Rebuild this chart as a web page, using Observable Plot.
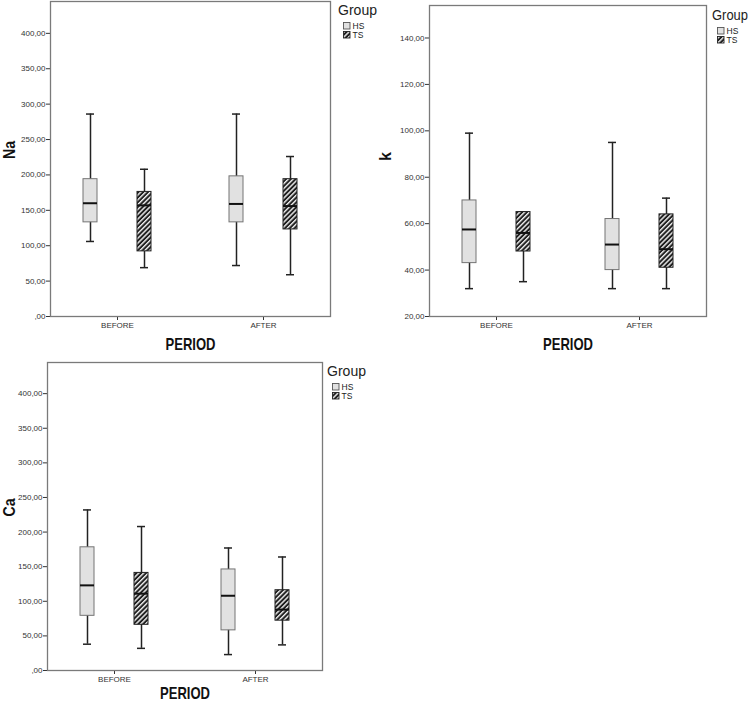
<!DOCTYPE html>
<html><head><meta charset="utf-8">
<script src="https://cdn.jsdelivr.net/npm/d3@7"></script>
<script src="https://cdn.jsdelivr.net/npm/@observablehq/plot@0.6"></script>
<style>
body{margin:0;background:#fff;}
#wrap{position:relative;width:750px;height:703px;overflow:hidden;background:#fff;}
#wrap svg{position:absolute;overflow:visible;background:transparent;}
</style></head><body><div id="wrap"></div>
<script>
// categories
const periods = ["BEFORE", "AFTER"];
const groups = ["HS", "TS"];
// five-number summaries [min, q1, median, q3, max], one per period (BEFORE, AFTER)
const naHS = [[106, 133, 160, 194, 286], [72, 133, 159, 198, 286]];
const naTS = [[69, 92, 157, 176, 208], [59, 123, 156, 194, 226]];
const kHS = [[32, 43, 57.5, 70, 99], [32, 40, 51, 62, 95]];
const kTS = [[35, 48, 56, 65, 65], [32, 41, 49, 64, 71]];
const caHS = [[38, 79, 123, 178, 232], [23, 58, 108, 146, 177]];
const caTS = [[32, 66, 111, 141, 208], [37, 72, 88, 116, 164]];
// tick values
const naTicks = [0, 50, 100, 150, 200, 250, 300, 350, 400];
const kTicks = [20, 40, 60, 80, 100, 120, 140];
const caTicks = [0, 50, 100, 150, 200, 250, 300, 350, 400];

const FONT = "'Liberation Sans', Arial, sans-serif";
const fmt = d => d === 0 ? ",00" : d.toFixed(2).replace(".", ",");
const wrap = document.getElementById("wrap");

function panel(cfg) {
  const {id, hs, ts, yDomain, ticks, ylabel, left, top, width, height, ml, mr, mt, mb, step, ylabDx, xlabDy, legend} = cfg;
  const rows = [];
  periods.forEach((p, i) => {
    [["HS", hs], ["TS", ts]].forEach(([g, arr]) => {
      const [mn, q1, md, q3, mx] = arr[i];
      rows.push({period: p, group: g, min: mn, q1, med: md, q3, max: mx});
    });
  });
  const W = width - ml - mr;
  const pi = 1 - 68 / step;
  const po = (W / step - 2 + pi) / 2;
  const marks = [];
  for (const g of groups) {
    const data = rows.filter(d => d.group === g);
    const hsSide = g === "HS";
    const dx = hsSide ? -27 : 27;
    const boxIn = hsSide ? {insetLeft: 0, insetRight: 54} : {insetLeft: 54, insetRight: 0};
    const capIn = hsSide ? {insetLeft: 3, insetRight: 57} : {insetLeft: 57, insetRight: 3};
    marks.push(Plot.ruleX(data, {x: "period", y1: "min", y2: "max", dx, stroke: "#222", strokeWidth: 1.5}));
    marks.push(Plot.tickY(data, {x: "period", y: "min", ...capIn, stroke: "#222", strokeWidth: 1.5}));
    marks.push(Plot.tickY(data, {x: "period", y: "max", ...capIn, stroke: "#222", strokeWidth: 1.5}));
    marks.push(Plot.barY(data, {x: "period", y1: "q1", y2: "q3", ...boxIn,
      fill: hsSide ? "#e1e1e1" : `url(#hatch-${id})`, stroke: hsSide ? "#747474" : "#222", strokeWidth: 1}));
    marks.push(Plot.tickY(data, {x: "period", y: "med", ...boxIn, stroke: "#111", strokeWidth: 2}));
  }
  marks.push(Plot.frame({stroke: "#7a7a7a", strokeWidth: 1.3}));
  marks.push(Plot.text([ylabel], {frameAnchor: "left", dx: ylabDx, rotate: -90, fontSize: 17, fontWeight: "bold", fill: "#111", lineAnchor: "middle"}));
  marks.push(Plot.text(["PERIOD"], {frameAnchor: "bottom", dy: xlabDy, fontSize: 17, fontWeight: "bold", fill: "#111", lineAnchor: "middle"}));

  const svg = Plot.plot({
    width, height,
    marginLeft: ml, marginRight: mr, marginTop: mt, marginBottom: mb,
    style: {fontSize: "8px", fontFamily: FONT, color: "#333", background: "transparent"},
    x: {type: "band", domain: periods, paddingInner: pi, paddingOuter: po, label: null, tickSize: 4, tickPadding: 2},
    y: {domain: yDomain, ticks, tickFormat: fmt, tickSize: 4, tickPadding: 1, label: null},
    marks
  });
  svg.style.left = left + "px";
  svg.style.top = top + "px";
  wrap.appendChild(svg);

  const s = d3.select(svg);
  const defs = s.insert("defs", ":first-child");
  const pat = defs.append("pattern").attr("id", `hatch-${id}`).attr("patternUnits", "userSpaceOnUse")
    .attr("width", 3.4).attr("height", 3.4).attr("patternTransform", "rotate(45)");
  pat.append("rect").attr("width", 3.4).attr("height", 3.4).attr("fill", "#1e1e1e");
  pat.append("rect").attr("width", 1.4).attr("height", 3.4).attr("fill", "#f2f2f2");

  s.selectAll("text").filter(function () { return this.textContent === "PERIOD"; })
    .attr("textLength", 50).attr("lengthAdjust", "spacingAndGlyphs");
  s.selectAll("text").filter(function () { return this.textContent === ylabel; })
    .attr("textLength", ylabel.length === 1 ? 9 : 18).attr("lengthAdjust", "spacingAndGlyphs");

  // legend
  const lx = width - mr + legend.dx, ly = mt + legend.dy;
  const lg = s.append("g").attr("font-family", FONT).attr("fill", "#222").attr("text-anchor", "start");
  lg.append("text").attr("x", lx).attr("y", ly).attr("font-size", legend.fs).attr("text-anchor", "start")
    .attr("textLength", legend.tl).attr("lengthAdjust", "spacingAndGlyphs").attr("fill", "#222").text("Group");
  groups.forEach((g, i) => {
    const yy = ly + 7 + i * 9;
    lg.append("rect").attr("x", lx + 5.5).attr("y", yy + 0.5).attr("width", 6.5).attr("height", 6.5)
      .attr("fill", g === "HS" ? "#e1e1e1" : `url(#hatch-${id})`).attr("stroke", g === "HS" ? "#555" : "#222").attr("stroke-width", 0.9);
    lg.append("text").attr("x", lx + 14.5).attr("y", yy + 7).attr("font-size", 8.5).attr("text-anchor", "start").attr("fill", "#222").text(g);
  });
}

panel({id: "na", hs: naHS, ts: naTS, yDomain: [0, 445], ticks: naTicks, ylabel: "Na",
  left: 0, top: 0, width: 380, height: 356, ml: 50, mr: 50, mt: 1, mb: 40, step: 146, ylabDx: -41, xlabDy: 28,
  legend: {dx: 8, dy: 14, fs: 15, tl: 39}});
panel({id: "k", hs: kHS, ts: kTS, yDomain: [20, 154], ticks: kTicks, ylabel: "k",
  left: 375, top: 0, width: 375, height: 356, ml: 54, mr: 44, mt: 5, mb: 40, step: 143.6, ylabDx: -44, xlabDy: 28,
  legend: {dx: 6, dy: 15, fs: 14, tl: 36}});
panel({id: "ca", hs: caHS, ts: caTS, yDomain: [0, 445], ticks: caTicks, ylabel: "Ca",
  left: 0, top: 355, width: 380, height: 348, ml: 47, mr: 58, mt: 7, mb: 33, step: 141.7, ylabDx: -38, xlabDy: 23,
  legend: {dx: 5, dy: 14, fs: 15, tl: 39}});
</script>
</body></html>
